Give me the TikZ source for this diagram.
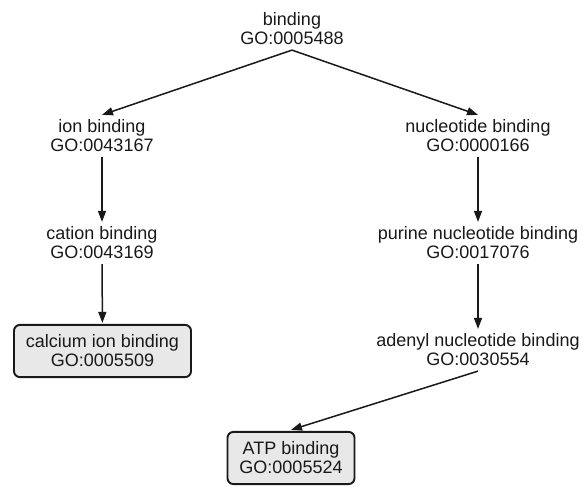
\documentclass[tikz,border=0pt]{standalone}
\usepackage{fontspec}
\setmainfont{Liberation Sans}
\usetikzlibrary{arrows.meta}
\tikzset{
  term/.style={align=center, inner sep=0pt, outer xsep=0pt, outer ysep=5pt, font=\fontsize{18}{19}\selectfont, text=black!90},
  leaf/.style={term, draw=black!90, line width=1.9pt, rounded corners=6pt, fill=black!9, inner xsep=12pt, inner ysep=10pt, outer sep=2pt},
  isa/.style={-{Triangle[length=11pt,width=8pt]}, line width=1.5pt, draw=black!90}
}
\begin{document}
\begin{tikzpicture}[x=1pt, y=-1pt]
	\useasboundingbox (0,0) rectangle (583,487);
	\node[term] (bind) at (292,29) {binding\\GO:0005488};
	\node[term] (ion) at (102,136) {ion binding\\GO:0043167};
	\node[term] (cation) at (102,243) {cation binding\\GO:0043169};
	\node[leaf] (calcium) at (102.5,351) {calcium ion binding\\GO:0005509};
	\node[term] (nucl) at (478,136) {nucleotide binding\\GO:0000166};
	\node[term] (purine) at (478,243) {purine nucleotide binding\\GO:0017076};
	\node[term] (adenyl) at (478,350) {adenyl nucleotide binding\\GO:0030554};
	\node[leaf] (atp) at (291,458) {ATP binding\\GO:0005524};
	\draw[isa] (bind.south) -- (ion.north);
	\draw[isa] (bind.south) -- (nucl.north);
	\draw[isa] (ion) -- (cation);
	\draw[isa] (cation) -- (calcium);
	\draw[isa] (nucl) -- (purine);
	\draw[isa] (purine) -- (adenyl);
	\draw[isa] (adenyl.south) -- (atp.north);
\end{tikzpicture}
\end{document}
